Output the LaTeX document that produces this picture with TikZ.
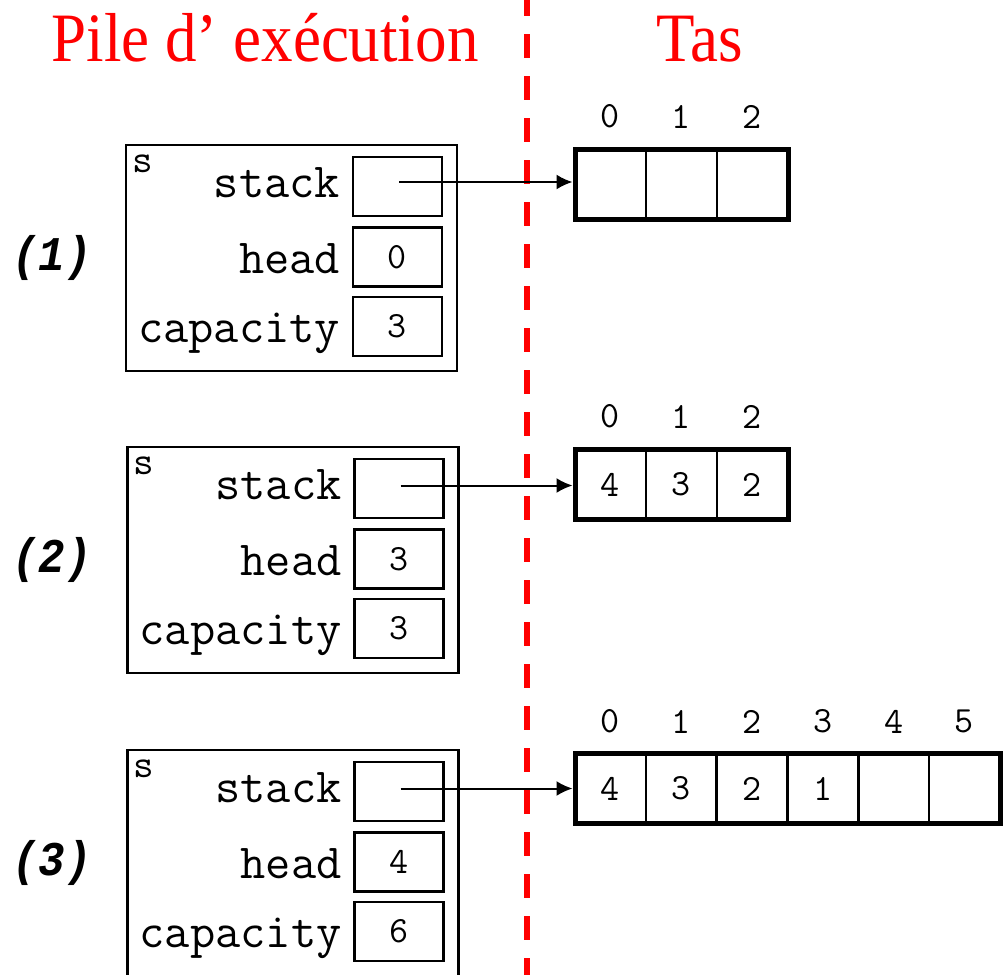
\documentclass[tikz,border=0pt]{standalone}
\usepackage{fontspec}
\usepackage{graphicx}
\setmainfont{Liberation Serif}
\newfontfamily\boldmono{Liberation Mono}
\usetikzlibrary{arrows.meta,calc}
\newcommand{\vst}[1]{\scalebox{1}[1.1]{#1}}
\begin{document}
\begin{tikzpicture}[x=1pt,y=-1pt,
  titletext/.style={text=red, font=\fontsize{63}{70}\selectfont, inner sep=0pt, outer sep=0pt, anchor=base},
  structbox/.style={draw, line width=2.2pt, minimum width=331pt, minimum height=226pt, inner sep=0pt, outer sep=0pt, anchor=north west},
  fieldbox/.style={draw, line width=2.2pt, minimum width=89pt, minimum height=59pt, inner sep=0pt, outer sep=0pt, font=\ttfamily\fontsize{37}{40}\selectfont},
  fieldlabel/.style={font=\ttfamily\fontsize{49}{52}\selectfont, inner sep=0pt, outer sep=0pt, anchor=base east},
  varname/.style={font=\ttfamily\fontsize{40}{43}\selectfont, inner sep=0pt, outer sep=0pt, anchor=base west},
  steplabel/.style={font=\boldmono\bfseries\itshape\fontsize{44}{48}\selectfont, inner sep=0pt, outer sep=0pt},
  cell/.style={draw, line width=2.5pt, minimum width=71pt, minimum height=70pt, inner sep=0pt, outer sep=0pt, font=\ttfamily\fontsize{37}{40}\selectfont},
  idx/.style={font=\ttfamily\fontsize{37}{40}\selectfont, inner sep=0pt, outer sep=0pt},
  arrayframe/.style={draw, line width=5pt},
  pointer/.style={line width=2pt, -{Latex[length=16pt,width=15pt]}, shorten >=2.5pt},
  divider/.style={draw=red, line width=6pt, dash pattern=on 24pt off 18pt, dash phase=8pt}
]
\useasboundingbox (0,0) rectangle (1005,975);

% titles
\node[titletext] (t1) at (265,61) {\vst{Pile d’ exécution}};
\node[titletext] (t2) at (700,61) {\vst{Tas}};

% red separator
\coordinate (dtop) at (527,0);
\coordinate (dbot) at (527,975);
\draw[divider] (dtop) -- (dbot);

% three stack frames
\foreach \r/\dx/\dy/\hv/\cv in {1/0/0/0/3, 2/1.5/302/3/3, 3/1.5/605/4/6}{
  \node[structbox] (s\r) at (126+\dx,145+\dy) {};
  \node[varname] (n\r) at (132+\dx,172+\dy) {s};
  \node[fieldbox] (stk\r) at (397.5+\dx,186.5+\dy) {};
  \node[fieldbox] (hd\r) at (397.5+\dx,257+\dy) {\hv};
  \node[fieldbox] (cap\r) at (397.5+\dx,326.5+\dy) {\cv};
  \node[fieldlabel] (ls\r) at (340+\dx,197+\dy) {stack};
  \node[fieldlabel] (lh\r) at (340+\dx,273.5+\dy) {head};
  \node[fieldlabel] (lc\r) at (340+\dx,342+\dy) {capacity};
  \node[steplabel] (st\r) at (52,258+\dy) {\vst{(\r)}};
}

% arrays
\foreach \i/\v in {0/,1/,2/}{
  \node[cell] (a1c\i) at (610.5+71*\i,184.5) {\v};
  \node[idx] (a1i\i) at ($(a1c\i.center)+(0,-68)$) {\i};
}
\draw[arrayframe] (a1c0.north west) rectangle (a1c2.south east);

\foreach \i/\v in {0/4,1/3,2/2}{
  \node[cell] (a2c\i) at (610.5+71*\i,484.5) {\v};
  \node[idx] (a2i\i) at ($(a2c\i.center)+(0,-68)$) {\i};
}
\draw[arrayframe] (a2c0.north west) rectangle (a2c2.south east);

\foreach \i/\v in {0/4,1/3,2/2,3/1,4/,5/}{
  \node[cell] (a3c\i) at (610.5+70.8*\i,788.5) {\v};
  \node[idx] (a3i\i) at ($(a3c\i.center)+(0,-67)$) {\i};
}
\draw[arrayframe] (a3c0.north west) rectangle (a3c5.south east);

% pointers
\coordinate (p1) at ($(stk1.center)+(1.5,-4.5)$);
\coordinate (p2) at ($(stk2.center)+(1.5,-3)$);
\coordinate (p3) at ($(stk3.center)+(1.5,-3)$);
\draw[pointer] (p1) -- (p1 -| a1c0.west);
\draw[pointer] (p2) -- (p2 -| a2c0.west);
\draw[pointer] (p3) -- (p3 -| a3c0.west);
\end{tikzpicture}
\end{document}
